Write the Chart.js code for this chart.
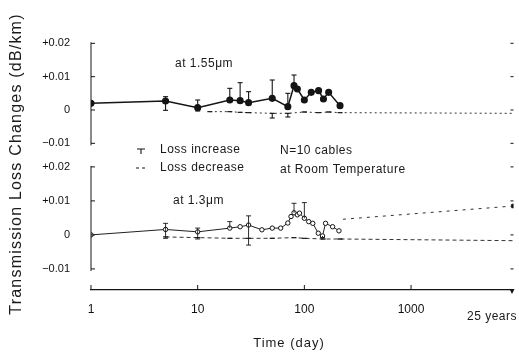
<!DOCTYPE html>
<html><head><meta charset="utf-8">
<script src="https://cdn.jsdelivr.net/npm/chart.js@4"></script>
<style>html,body{margin:0;padding:0;background:#fff;overflow:hidden}</style>
</head><body>
<canvas id="c" width="519" height="354"></canvas>
<script>
// ---------- data ----------
const xTickValues = [1, 10, 100, 1000];
const xTickLabels = ['1', '10', '100', '1000'];
const yTickValues = [-0.01, 0, 0.01, 0.02];
const yTickLabels = ['\u22120.01', '0', '+0.01', '+0.02'];
const endDay = 9131; // 25 years

// 1.55 um, loss increase
const days155Inc = [1, 5, 10, 20, 25, 30, 50, 70, 80, 86, 100, 116, 136, 151, 169, 216];
const loss155Inc = [0.002, 0.0027, 0.0007, 0.003, 0.0028, 0.0022, 0.0035, 0.001, 0.0073, 0.0063, 0.003, 0.0053, 0.0058, 0.0033, 0.0053, 0.0013];
const hi155Inc   = [null, 0.004, 0.003, 0.0065, 0.0082, 0.0055, 0.009, 0.005, 0.0105, null, null, null, null, null, null, null];
const lo155Inc   = [null, -0.0001, -0.0003, null, null, null, null, null, null, null, null, null, null, null, null, null];
// 1.55 um, loss decrease
const days155Dec = [13, 20, 25, 30, 50, 70, 100, 136, 169, 216, 9131];
const loss155Dec = [-0.0005, -0.0005, -0.0007, -0.0008, -0.001, -0.001, -0.0006, -0.0008, -0.0006, -0.0008, -0.001];
const lo155Dec   = [null, null, null, null, -0.0024, -0.0021, null, null, null, null, null];

// 1.3 um, loss increase
const days13Inc = [1, 5, 10, 20, 25, 30, 40, 50, 60, 70, 75, 80, 86, 90, 100, 110, 120, 135, 148, 158, 184, 211];
const loss13Inc = [0, 0.0016, 0.0009, 0.002, 0.0024, 0.0029, 0.0015, 0.002, 0.002, 0.0035, 0.0054, 0.0065, 0.0059, 0.0064, 0.0049, 0.0039, 0.0034, 0.0005, -0.0003, 0.0034, 0.0024, 0.0012];
const hi13Inc   = [null, 0.0034, 0.002, 0.0039, null, 0.0056, null, null, null, null, null, 0.0093, null, null, 0.0095, null, null, null, null, null, null, null];
const lo13Inc   = [null, -0.001, -0.0012, null, null, -0.003, null, null, null, null, null, null, null, null, null, null, null, null, -0.0008, null, null, null];
// 1.3 um, loss decrease
const days13Dec = [5, 10, 20, 30, 50, 80, 100, 150, 216, 9131];
const loss13Dec = [-0.0006, -0.0008, -0.001, -0.001, -0.001, -0.0008, -0.001, -0.0012, -0.0012, -0.0017];
// 1.3 um, extrapolated increase to 25 years
const days13Ext = [230, 9131];
const loss13Ext = [0.0046, 0.0085];

// ---------- helpers ----------
const pts = (xs, ys) => xs.map((x, i) => ({x: x, y: ys[i]}));
const FONT = "'Liberation Sans', Arial, sans-serif";
Chart.defaults.font.family = FONT;
Chart.defaults.color = '#222';

const ink = '#151515';

const decor = {
  id: 'decor',
  afterDatasetsDraw(chart) {
    const ctx = chart.ctx;
    const xs = chart.scales.x, yT = chart.scales.yTop, yB = chart.scales.yBot;
    ctx.save();
    ctx.strokeStyle = ink; ctx.fillStyle = ink; ctx.lineWidth = 1;
    // panel y axes and inward ticks
    [yT, yB].forEach(ys => {
      const x0 = xs.left;
      ctx.beginPath();
      ctx.moveTo(x0, ys.getPixelForValue(0.02) - 1);
      ctx.lineTo(x0, ys.getPixelForValue(-0.01) + 2);
      ctx.stroke();
      yTickValues.forEach(v => {
        const y = ys.getPixelForValue(v);
        ctx.beginPath(); ctx.moveTo(x0, y); ctx.lineTo(x0 + 4, y); ctx.stroke();
        ctx.beginPath(); ctx.moveTo(xs.right - 3, y); ctx.lineTo(xs.right, y); ctx.stroke();
      });
    });
    // x axis inward ticks
    xTickValues.forEach(v => {
      const x = xs.getPixelForValue(v);
      ctx.beginPath(); ctx.moveTo(x, xs.top); ctx.lineTo(x, xs.top - 5); ctx.stroke();
    });
    // 25-year marker on axis
    const xe = xs.getPixelForValue(endDay);
    ctx.beginPath(); ctx.moveTo(xe - 4, xs.top - 1); ctx.lineTo(xe + 1, xs.top - 1); ctx.lineTo(xe - 1.5, xs.top + 4); ctx.closePath(); ctx.fill();

    // error bars
    function bars(ys, days, vals, hi, lo, cap) {
      days.forEach((d, i) => {
        const x = xs.getPixelForValue(d), y = ys.getPixelForValue(vals[i]);
        [hi ? hi[i] : null, lo ? lo[i] : null].forEach(e => {
          if (e === null || e === undefined) return;
          const ye = ys.getPixelForValue(e);
          ctx.beginPath(); ctx.moveTo(x, y); ctx.lineTo(x, ye); ctx.stroke();
          ctx.beginPath(); ctx.moveTo(x - cap, ye); ctx.lineTo(x + cap, ye); ctx.stroke();
        });
      });
    }
    ctx.lineWidth = 1.1;
    bars(yT, days155Inc, loss155Inc, hi155Inc, lo155Inc, 2.5);
    bars(yT, days155Dec, loss155Dec, null, lo155Dec, 2.5);
    ctx.lineWidth = 0.9;
    bars(yB, days13Inc, loss13Inc, hi13Inc, lo13Inc, 2.5);

    // texts
    ctx.fillStyle = '#1a1a1a';
    ctx.textBaseline = 'middle';
    ctx.font = '12px ' + FONT;
    ctx.letterSpacing = '0.5px';
    ctx.textAlign = 'left';
    ctx.fillText('at 1.55\u03bcm', 175, 64);
    ctx.fillText('at 1.3\u03bcm', 173, 201);
    ctx.fillText('Loss increase', 160, 150);
    ctx.fillText('Loss decrease', 160, 168);
    ctx.fillText('N=10 cables', 280, 151);
    ctx.fillText('at Room Temperature', 280, 170);
    ctx.textAlign = 'right';
    ctx.fillText('25 years', 517, 317);
    // legend glyphs
    ctx.lineWidth = 1.1;
    ctx.beginPath(); ctx.moveTo(137, 149); ctx.lineTo(145, 149); ctx.moveTo(141, 149); ctx.lineTo(141, 154); ctx.stroke();
    ctx.beginPath(); ctx.moveTo(136, 168); ctx.lineTo(139, 168); ctx.moveTo(142, 168); ctx.lineTo(145, 168); ctx.stroke();
    // axis titles
    ctx.font = '13px ' + FONT;
    ctx.letterSpacing = '1px';
    ctx.textAlign = 'center';
    ctx.fillText('Time (day)', 289, 343);
    ctx.save();
    ctx.translate(17, 164);
    ctx.rotate(-Math.PI / 2);
    ctx.font = '16px ' + FONT;
    ctx.letterSpacing = '1.2px';
    ctx.fillText('Transmission Loss Changes (dB/km)', 0, 0);
    ctx.restore();
    ctx.restore();
  }
};

const yTicksCfg = {
  font: {size: 11}, padding: 13, color: '#111',
  callback: v => { const i = yTickValues.indexOf(v); return i >= 0 ? yTickLabels[i] : ''; }
};

new Chart(document.getElementById('c'), {
  type: 'line',
  data: {
    datasets: [
      { label: 'Loss increase (1.55 \u03bcm)', data: pts(days155Inc, loss155Inc), yAxisID: 'yTop',
        borderColor: ink, borderWidth: 1.5, pointRadius: 2.8, pointBackgroundColor: ink, pointBorderColor: ink, tension: 0 },
      { label: 'Loss decrease (1.55 \u03bcm)', data: pts(days155Dec, loss155Dec), yAxisID: 'yTop',
        borderColor: '#333', borderWidth: 1, borderDash: [2, 3], pointStyle: 'line', pointRadius: [2.5,2.5,2.5,2.5,2.5,2.5,2.5,2.5,2.5,2.5,0], pointBorderWidth: 1.3, pointBorderColor: '#222', tension: 0 },
      { label: 'Loss increase (1.3 \u03bcm)', data: pts(days13Inc, loss13Inc), yAxisID: 'yBot',
        borderColor: '#222', borderWidth: 1, pointRadius: 2.2, pointBackgroundColor: '#fff', pointBorderColor: '#111', pointBorderWidth: 1, tension: 0 },
      { label: 'Loss decrease (1.3 \u03bcm)', data: pts(days13Dec, loss13Dec), yAxisID: 'yBot',
        borderColor: '#333', borderWidth: 1, borderDash: [4, 3], pointStyle: 'line', pointRadius: [2.5,2.5,2.5,2.5,2.5,2.5,2.5,2.5,2.5,0], pointBorderWidth: 1.3, pointBorderColor: '#222', tension: 0 },
      { label: 'Projected increase (1.3 \u03bcm)', data: pts(days13Ext, loss13Ext), yAxisID: 'yBot',
        borderColor: '#333', borderWidth: 1, borderDash: [3, 5], pointStyle: 'rect', pointRadius: [0, 2.5], pointBackgroundColor: ink, pointBorderColor: ink, tension: 0 }
    ]
  },
  options: {
    responsive: false, animation: false,
    layout: {padding: {top: 35, right: 1, left: 0, bottom: 0}},
    plugins: {legend: {display: false}, tooltip: {enabled: false}},
    scales: {
      x: {
        type: 'logarithmic', min: 1, max: endDay,
        afterBuildTicks: s => { s.ticks = xTickValues.map(v => ({value: v})); },
        ticks: { font: {size: 12}, padding: 4, maxRotation: 0, autoSkip: false, color: '#111',
          callback: v => { const i = xTickValues.indexOf(v); return i >= 0 ? xTickLabels[i] : ''; } },
        grid: {display: false},
        border: {display: true, color: ink, width: 1.2},
        afterFit: s => { s.height = 64; }
      },
      yBot: {
        type: 'linear', position: 'left', stack: 'panels', stackWeight: 134,
        min: -0.0162, max: 0.0232,
        afterBuildTicks: s => { s.ticks = yTickValues.map(v => ({value: v})); },
        ticks: yTicksCfg, grid: {display: false}, border: {display: false},
        afterFit: s => { s.width = 91; }
      },
      yTop: {
        type: 'linear', position: 'left', stack: 'panels', stackWeight: 121,
        min: -0.0138, max: 0.0225,
        afterBuildTicks: s => { s.ticks = yTickValues.map(v => ({value: v})); },
        ticks: yTicksCfg, grid: {display: false}, border: {display: false},
        afterFit: s => { s.width = 91; }
      }
    }
  },
  plugins: [decor]
});
</script>
</body></html>
